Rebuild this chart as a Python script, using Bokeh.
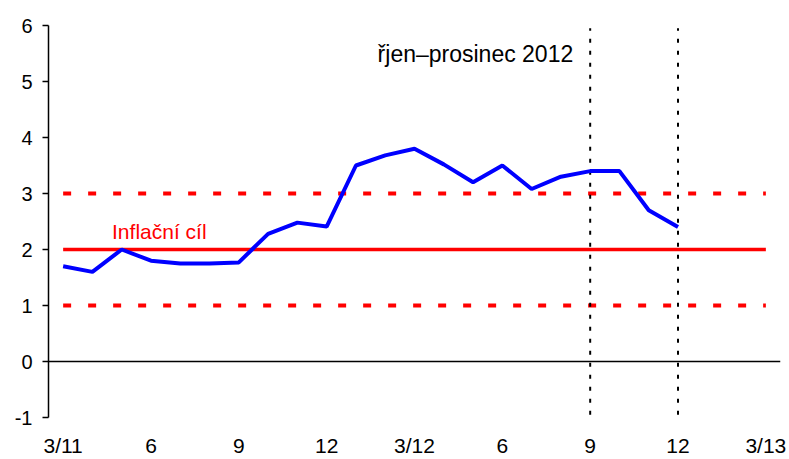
from bokeh.plotting import figure
from bokeh.models import FixedTicker, Label, Span
from bokeh.embed import file_html
from bokeh.resources import INLINE

# Data
tick_labels = ["3/11", "6", "9", "12", "3/12", "6", "9", "12", "3/13"]
y_ticks = [-1, 0, 1, 2, 3, 4, 5, 6]
y_tick_labels = ["-1", "0", "1", "2", "3", "4", "5", "6"]
months_all = list(range(25))  # 3/11 .. 3/13
inflation = [1.7, 1.6, 2.0, 1.8, 1.75, 1.75, 1.77, 2.28, 2.48, 2.41,
             3.5, 3.68, 3.8, 3.52, 3.2, 3.5, 3.08, 3.3, 3.4, 3.4,
             2.7, 2.4]
target = [2.0] * 25
band_low = [1.0] * 25
band_high = [3.0] * 25
period_marks = [18, 21]  # 9/12 and 12/12

FONT = "Liberation Sans"

p = figure(width=789, height=459, output_backend="svg", toolbar_location=None,
           x_range=(-0.5, 24.5), y_range=(-1, 6),
           min_border_left=48, min_border_right=9, min_border_top=25,
           min_border_bottom=40)
p.outline_line_color = None
p.xgrid.visible = False
p.ygrid.visible = False
p.background_fill_color = "white"

# zero line
p.add_layout(Span(location=0, dimension="width", line_color="#000000", line_width=1.5))

months_line = months_all[:len(inflation)]

p.line(months_all, band_high, line_color="#ff0000", line_width=4, line_dash="8 17")
p.line(months_all, band_low, line_color="#ff0000", line_width=4, line_dash="8 17")
p.line(months_all, target, line_color="#ff0000", line_width=3.5)

for m in period_marks:
    p.line([m, m], [-0.95, 5.95], line_color="#000000", line_width=2, line_dash="4 8")

p.line(months_line, inflation, line_color="#0000ff", line_width=4)

p.add_layout(Label(x=10.74, y=5.5, text="řjen–prosinec 2012", text_font=FONT,
                   text_font_size="23px", text_color="#000000", text_baseline="middle"))
p.add_layout(Label(x=1.67, y=2.33, text="Inflační cíl", text_font=FONT,
                   text_font_size="21px", text_color="#ff0000", text_baseline="middle"))

# y axis
p.yaxis.ticker = FixedTicker(ticks=y_ticks)
p.yaxis.major_label_overrides = {t: lab for t, lab in zip(y_ticks, y_tick_labels)}
p.yaxis.axis_line_color = "#000000"
p.yaxis.axis_line_width = 1.5
p.yaxis.major_tick_in = 0
p.yaxis.major_tick_out = 6
p.yaxis.major_tick_line_width = 1.5
p.yaxis.minor_tick_line_color = None
p.yaxis.major_label_standoff = 10
p.yaxis.major_label_text_font = FONT
p.yaxis.major_label_text_font_size = "20px"
p.yaxis.major_label_text_color = "#000000"

# x axis
p.xaxis.ticker = FixedTicker(ticks=months_all[::3])
p.xaxis.major_label_overrides = {m: lab for m, lab in zip(months_all[::3], tick_labels)}
p.xaxis.axis_line_color = None
p.xaxis.major_tick_line_color = None
p.xaxis.minor_tick_line_color = None
p.xaxis.major_tick_in = 0
p.xaxis.major_tick_out = 0
p.xaxis.major_label_standoff = 16
p.xaxis.major_label_text_font = FONT
p.xaxis.major_label_text_font_size = "21px"
p.xaxis.major_label_text_color = "#000000"

open("out.html", "w").write(file_html(p, INLINE))
